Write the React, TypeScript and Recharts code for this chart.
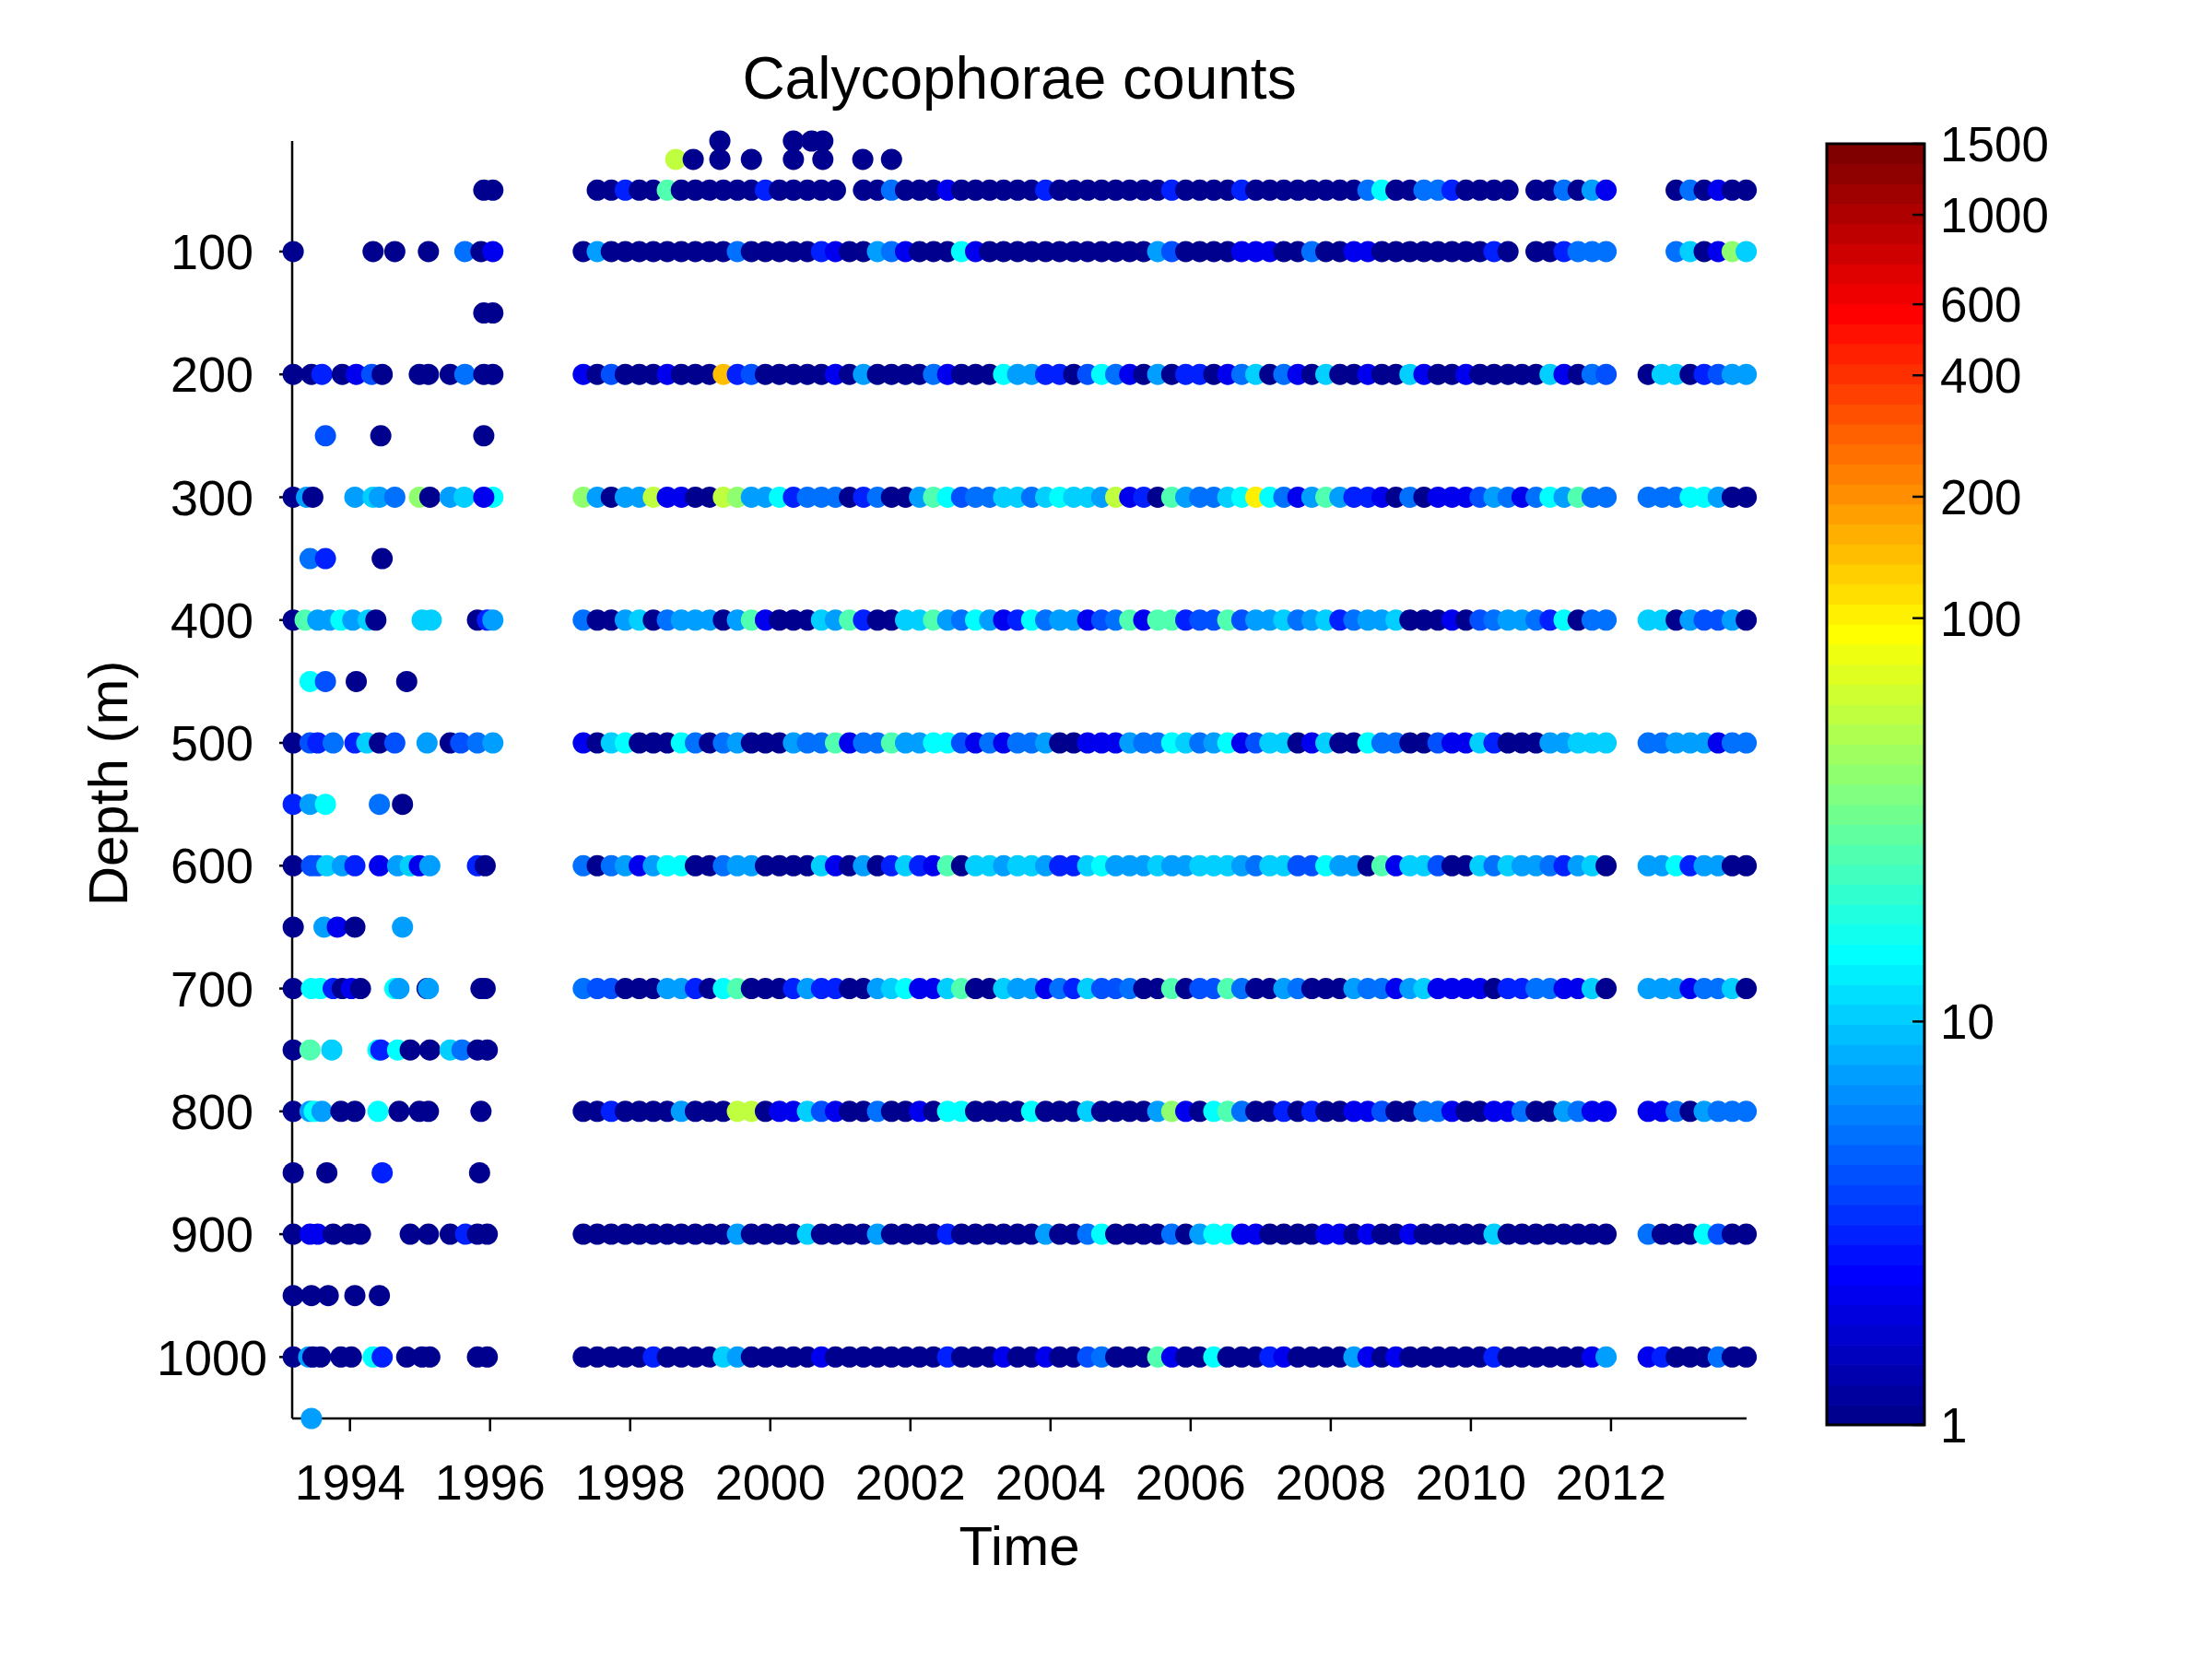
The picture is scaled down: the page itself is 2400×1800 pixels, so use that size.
import React from "react";
import {
  ComposedChart,
  Label,
  ReferenceArea,
  Scatter,
  ScatterChart,
  XAxis,
  YAxis,
} from "recharts";

const FONT = '"Liberation Sans", Arial, Helvetica, sans-serif';

const yearTicks = [1994, 1996, 1998, 2000, 2002, 2004, 2006, 2008, 2010, 2012];
const depthTicks = [100, 200, 300, 400, 500, 600, 700, 800, 900, 1000];
const countTicks = [1, 10, 100, 200, 400, 600, 1000, 1500];

// early casts, 1993-1996: [year, depth (m), count]
const earlyCasts: [number, number, number][] = [
  [1995.91, 50, 1], [1996.04, 50, 1],
  [1993.19, 100, 1], [1994.33, 100, 1], [1994.64, 100, 1], [1995.12, 100, 1],
  [1995.64, 100, 5], [1995.87, 100, 1], [1996.04, 100, 2],
  [1995.91, 150, 1], [1996.04, 150, 1],
  [1993.19, 200, 1], [1993.45, 200, 1], [1993.6, 200, 3], [1993.89, 200, 1],
  [1994.09, 200, 2], [1994.31, 200, 4], [1994.46, 200, 1], [1994.99, 200, 1],
  [1995.12, 200, 1], [1995.43, 200, 1], [1995.64, 200, 5], [1995.91, 200, 1],
  [1996.04, 200, 1],
  [1993.65, 250, 4], [1994.44, 250, 1], [1995.91, 250, 1],
  [1993.19, 300, 1], [1993.38, 300, 7], [1993.47, 300, 1], [1994.07, 300, 7],
  [1994.33, 300, 10], [1994.42, 300, 7], [1994.64, 300, 5], [1994.99, 300, 40],
  [1995.14, 300, 1], [1995.43, 300, 7], [1995.63, 300, 10], [1996.04, 300, 15],
  [1995.91, 300, 2],
  [1993.43, 350, 5], [1993.65, 350, 3], [1994.46, 350, 1],
  [1993.19, 400, 1], [1993.36, 400, 25], [1993.54, 400, 7], [1993.71, 400, 7],
  [1993.87, 400, 15], [1994.04, 400, 7], [1994.26, 400, 10], [1994.37, 400, 1],
  [1995.03, 400, 10], [1995.16, 400, 10], [1995.82, 400, 1], [1995.96, 400, 3],
  [1996.04, 400, 7],
  [1993.43, 450, 15], [1993.65, 450, 4], [1994.09, 450, 1], [1994.81, 450, 1],
  [1993.19, 500, 1], [1993.43, 500, 4], [1993.54, 500, 3], [1993.76, 500, 5],
  [1994.07, 500, 3], [1994.24, 500, 10], [1994.42, 500, 1], [1994.64, 500, 4],
  [1995.1, 500, 7], [1995.43, 500, 1], [1995.58, 500, 4], [1995.82, 500, 5],
  [1996.04, 500, 7],
  [1993.19, 550, 3], [1993.43, 550, 7], [1993.65, 550, 15], [1994.42, 550, 5],
  [1994.75, 550, 1],
  [1993.19, 600, 1], [1993.45, 600, 4], [1993.54, 600, 4], [1993.67, 600, 10],
  [1993.89, 600, 7], [1994.07, 600, 3], [1994.42, 600, 2], [1994.68, 600, 7],
  [1994.86, 600, 10], [1994.99, 600, 2], [1995.14, 600, 7], [1995.82, 600, 3],
  [1995.93, 600, 1],
  [1993.19, 650, 1], [1993.63, 650, 7], [1993.82, 650, 2], [1994.07, 650, 1],
  [1994.75, 650, 7],
  [1993.19, 700, 1], [1993.45, 700, 15], [1993.58, 700, 15], [1993.76, 700, 3],
  [1993.89, 700, 1], [1994.02, 700, 2], [1994.15, 700, 1], [1994.64, 700, 15],
  [1994.7, 700, 7], [1995.1, 700, 1], [1995.12, 700, 7], [1995.87, 700, 1],
  [1995.93, 700, 1],
  [1993.19, 750, 1], [1993.43, 750, 25], [1993.74, 750, 10], [1994.4, 750, 15],
  [1994.44, 750, 3], [1994.68, 750, 15], [1994.86, 750, 1], [1995.14, 750, 1],
  [1995.43, 750, 10], [1995.6, 750, 5], [1995.82, 750, 1], [1995.96, 750, 1],
  [1993.19, 800, 1], [1993.43, 800, 7], [1993.49, 800, 15], [1993.6, 800, 7],
  [1993.87, 800, 1], [1994.07, 800, 1], [1994.4, 800, 15], [1994.7, 800, 1],
  [1994.99, 800, 1], [1995.12, 800, 1], [1995.87, 800, 1],
  [1993.19, 850, 1], [1993.67, 850, 1], [1994.46, 850, 3], [1995.85, 850, 1],
  [1993.19, 900, 1], [1993.43, 900, 2], [1993.54, 900, 2], [1993.76, 900, 1],
  [1993.98, 900, 1], [1994.15, 900, 1], [1994.86, 900, 1], [1995.12, 900, 1],
  [1995.43, 900, 1], [1995.65, 900, 3], [1995.82, 900, 1], [1995.96, 900, 1],
  [1993.19, 950, 1], [1993.45, 950, 1], [1993.69, 950, 1], [1994.07, 950, 1],
  [1994.42, 950, 1],
  [1993.19, 1000, 1], [1993.41, 1000, 7], [1993.47, 1000, 1], [1993.58, 1000, 1],
  [1993.87, 1000, 1], [1994.02, 1000, 1], [1994.33, 1000, 15], [1994.46, 1000, 3],
  [1994.81, 1000, 1], [1995.03, 1000, 1], [1995.14, 1000, 1], [1995.82, 1000, 1],
  [1995.96, 1000, 1],
  [1993.45, 1050, 7],
];

// shallow casts above 50 m, 1998-2001: [year, depth (m), count]
const shallowCasts: [number, number, number][] = [
  [1998.65, 25, 60], [1998.9, 25, 1], [1999.28, 25, 1], [1999.73, 25, 1],
  [2000.33, 25, 1], [2000.75, 25, 1], [2001.32, 25, 1], [2001.73, 25, 1],
  [1999.28, 10, 1], [2000.33, 10, 1], [2000.59, 10, 1], [2000.75, 10, 1],
];

// regular series from 1997: one character per 0.2-year step, "." = no sample
const seriesStart = 1997.33;
const seriesStep = 0.2;
const seriesDepths = [50, 100, 200, 300, 400, 500, 600, 700, 800, 900, 1000];
const seriesCodes = [
  [".11311g111", "111311111.", "1151112111", "1113111111", "1131111311", "1111115c11", "5531111.11", "5172....15", "1211"],
  ["1711111111", "1511111321", "1752111c21", "1111111111", "1741111222", "1151122111", "1111131.11", "3555....59", "12h9"],
  ["2141112111", "o341111121", "7111152111", "c773314c52", "1713312591", "5219112119", "2112111119", "2154..1991", "3477"],
  ["h7177G2211", "Gh77c35551", "35117gc455", "9959c997G2", "31g7559cyc", "527g733215", "122247525c", "7g55..555c", "c711"],
  ["5117915777", "17g211197g", "31199g75c7", "23c577245g", "2gg344g477", "9579357791", "1121457753", "c155..9917", "4471"],
  ["219c111c51", "57111755g2", "55g77cc425", "2557112227", "55c957c249", "912911c551", "1422931117", "7999..5577", "7255"],
  ["515727cc11", "5771111921", "713932g199", "7997339c77", "7977999759", "944c771g29", "9411959775", "3791..77c3", "7711"],
  ["5441117731", "cg11137331", "179c229g11", "9772539445", "11g144g511", "7511175527", "9222213355", "2291..7772", "5591"],
  ["1131111711", "1GG1229421", "151121cc11", "11c1119111", "17h21cg511", "3131122411", "5521122511", "7522..2251", "7555"],
  ["1111111111", "1711119111", "1711113111", "1117115c11", "11517cc221", "1112212112", "1111191111", "1111..5111", "c411"],
  ["1111131111", "9711111211", "1111113111", "2112114511", "1g211c1113", "2111172121", "1111131111", "1127..2311", "1511"],
].map((chunks) => chunks.join(""));
const codeCount: Record<string, number> = {
  "1": 1, "2": 2, "3": 3, "4": 4, "5": 5, "7": 7, "9": 10,
  c: 15, g: 25, h: 40, G: 60, y: 100, o: 150,
};

type Obs = { year: number; depth: number; count: number };

const toObs = ([year, depth, count]: [number, number, number]): Obs => ({ year, depth, count });

const points: Obs[] = [
  ...earlyCasts.map(toObs),
  ...shallowCasts.map(toObs),
  ...seriesDepths.flatMap((depth, r) =>
    seriesCodes[r].split("").flatMap((ch, i) =>
      ch === "."
        ? []
        : [{ year: Math.round((seriesStart + i * seriesStep) * 100) / 100, depth, count: codeCount[ch] }]
    )
  ),
];

// matlab jet(64), log colour scale 1..1500
const LOG_MAX = Math.log10(1500);

const jetRamp = (k: number) => {
  if (k < 1 || k > 47) return 0;
  if (k <= 16) return k / 16;
  if (k <= 31) return 1;
  return (48 - k) / 16;
};

const jetColor = (i: number) => {
  const hex = (v: number) => Math.round(v * 255).toString(16).padStart(2, "0");
  return `#${hex(jetRamp(i - 24))}${hex(jetRamp(i - 8))}${hex(jetRamp(i + 8))}`;
};

const countColor = (c: number) =>
  jetColor(Math.min(64, Math.floor((Math.log10(c) / LOG_MAX) * 64) + 1));

const colorBands = Array.from({ length: 64 }, (_, k) => ({
  lo: Math.max(1, 10 ** ((LOG_MAX * k) / 64)),
  hi: Math.min(1500, 10 ** ((LOG_MAX * (k + 1)) / 64)),
  color: jetColor(k + 1),
}));

const renderDot = (props: any) => {
  const { cx, cy, payload } = props;
  if (cx == null || cy == null) return <g />;
  return <circle cx={cx} cy={cy} r={11.5} fill={countColor(payload.count)} />;
};

const DepthLabel = (props: any) => {
  const vb = props.viewBox || { x: 117, y: 153, width: 200, height: 1386 };
  const x = vb.x + 21;
  const y = vb.y + vb.height / 2 + 4;
  return (
    <text
      x={x}
      y={y}
      transform={`rotate(-90 ${x} ${y})`}
      textAnchor="middle"
      fontSize={60}
      fontFamily={FONT}
      fill="#000"
    >
      Depth (m)
    </text>
  );
};

const axisStroke = { stroke: "#000", strokeWidth: 2.5 };
const tickText = { fill: "#000", fontSize: 54, fontFamily: FONT };

export default function App() {
  return (
    <div style={{ position: "absolute", left: 0, top: 0, width: 2400, height: 1800, background: "#fff" }}>
      <div
        style={{
          position: "absolute",
          left: 317,
          top: 53,
          width: 1578,
          textAlign: "center",
          fontFamily: FONT,
          fontSize: 64,
          lineHeight: "64px",
          color: "#000",
        }}
      >
        Calycophorae counts
      </div>

      <div style={{ position: "absolute", left: 0, top: 0 }}>
        <ScatterChart width={2400} height={1800} margin={{ top: 153, right: 505, bottom: 61, left: 117 }}>
          <XAxis
            type="number"
            dataKey="year"
            domain={[1993.175, 2013.935]}
            ticks={yearTicks}
            interval={0}
            height={200}
            axisLine={axisStroke}
            tickLine={axisStroke}
            tickSize={14}
            tickMargin={36}
            tick={tickText}
          >
            <Label value="Time" position="insideBottom" offset={41} fill="#000" fontSize={60} fontFamily={FONT} />
          </XAxis>
          <YAxis
            type="number"
            dataKey="depth"
            reversed
            domain={[10, 1050]}
            ticks={depthTicks}
            interval={0}
            width={200}
            axisLine={axisStroke}
            tickLine={axisStroke}
            tickSize={14}
            tickMargin={73}
            tick={{ ...tickText, textAnchor: "middle" }}
          >
            <Label content={DepthLabel} />
          </YAxis>
          <Scatter data={points} shape={renderDot} isAnimationActive={false} />
        </ScatterChart>
      </div>

      <div style={{ position: "absolute", left: 0, top: 0 }}>
        <ComposedChart width={2400} height={1800} margin={{ top: 156, right: 12, bottom: 254, left: 1972 }}>
          <XAxis type="number" dataKey="x" domain={[0, 1]} allowDataOverflow hide />
          <YAxis
            yAxisId="l"
            orientation="left"
            type="number"
            scale="log"
            domain={[1, 1500]}
            allowDataOverflow
            ticks={countTicks}
            interval={0}
            width={10}
            axisLine={false}
            tickLine={axisStroke}
            tickSize={-13}
            tick={false}
          />
          <YAxis
            yAxisId="r"
            orientation="right"
            type="number"
            scale="log"
            domain={[1, 1500]}
            allowDataOverflow
            ticks={countTicks}
            interval={0}
            width={300}
            axisLine={false}
            tickLine={axisStroke}
            tickSize={-13}
            tickMargin={30}
            tick={{ ...tickText, fontSize: 53 }}
          />
          {colorBands.map((b, k) => (
            <ReferenceArea
              key={k}
              yAxisId="r"
              x1={0}
              x2={1}
              y1={b.lo}
              y2={b.hi}
              fill={b.color}
              fillOpacity={1}
              stroke={b.color}
              strokeWidth={1}
              ifOverflow="visible"
            />
          ))}
          <ReferenceArea
            yAxisId="r"
            x1={0}
            x2={1}
            y1={1}
            y2={1500}
            fill="none"
            stroke="#000"
            strokeWidth={3}
            ifOverflow="visible"
          />
        </ComposedChart>
      </div>
    </div>
  );
}
